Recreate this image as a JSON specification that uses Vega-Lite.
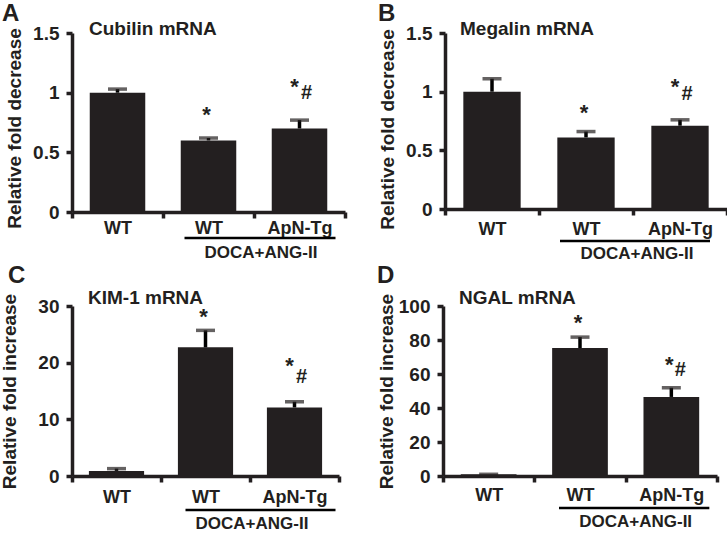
{
  "$schema": "https://vega.github.io/schema/vega-lite/v6.json",
  "background": "white",
  "padding": {"left": 0, "top": 2, "right": 0, "bottom": 0},
  "datasets": {
    "A": [
      {"panel": "A", "gene": "Cubilin mRNA", "cat": "WT", "group": "", "value": 1.0, "hi": 1.03, "sig": ""},
      {"panel": "A", "gene": "Cubilin mRNA", "cat": "DOCA WT", "group": "DOCA+ANG-II", "value": 0.60, "hi": 0.62, "sig": "*"},
      {"panel": "A", "gene": "Cubilin mRNA", "cat": "DOCA ApN-Tg", "group": "DOCA+ANG-II", "value": 0.70, "hi": 0.77, "sig": "*#"}
    ],
    "B": [
      {"panel": "B", "gene": "Megalin mRNA", "cat": "WT", "group": "", "value": 1.0, "hi": 1.11, "sig": ""},
      {"panel": "B", "gene": "Megalin mRNA", "cat": "DOCA WT", "group": "DOCA+ANG-II", "value": 0.61, "hi": 0.66, "sig": "*"},
      {"panel": "B", "gene": "Megalin mRNA", "cat": "DOCA ApN-Tg", "group": "DOCA+ANG-II", "value": 0.71, "hi": 0.76, "sig": "*#"}
    ],
    "C": [
      {"panel": "C", "gene": "KIM-1 mRNA", "cat": "WT", "group": "", "value": 0.9, "hi": 1.3, "sig": ""},
      {"panel": "C", "gene": "KIM-1 mRNA", "cat": "DOCA WT", "group": "DOCA+ANG-II", "value": 22.7, "hi": 25.7, "sig": "*"},
      {"panel": "C", "gene": "KIM-1 mRNA", "cat": "DOCA ApN-Tg", "group": "DOCA+ANG-II", "value": 12.1, "hi": 13.1, "sig": "*#"}
    ],
    "D": [
      {"panel": "D", "gene": "NGAL mRNA", "cat": "WT", "group": "", "value": 1.0, "hi": 1.0, "sig": ""},
      {"panel": "D", "gene": "NGAL mRNA", "cat": "DOCA WT", "group": "DOCA+ANG-II", "value": 75.3, "hi": 81.7, "sig": "*"},
      {"panel": "D", "gene": "NGAL mRNA", "cat": "DOCA ApN-Tg", "group": "DOCA+ANG-II", "value": 46.5, "hi": 51.9, "sig": "*#"}
    ]
  },
  "vconcat": [
    {
      "hconcat": [
        {
          "width": 273, "height": 179,
          "data": {"name": "A"},
          "encoding": {"x": {"field": "cat", "type": "nominal", "sort": ["WT", "DOCA WT", "DOCA ApN-Tg"], "scale": {"paddingInner": 0, "paddingOuter": 0}, "axis": {"labelPadding": 1, "labelExpr": "datum.value == 'DOCA ApN-Tg' ? 'ApN-Tg' : ((datum.value == 'WT' || datum.value == 'DOCA WT') ? 'WT' : '')"}}},
          "layer": [
            {"mark": {"type": "bar", "width": {"band": 0.61}}, "encoding": {"y": {"field": "value", "type": "quantitative", "scale": {"domain": [0, 1.5], "nice": false}, "axis": {"values": [0, 0.5, 1, 1.5], "format": "~g", "labelOverlap": false, "title": "Relative fold decrease", "titlePadding": 8, "titleY": 95}}}},
            {"mark": {"type": "rule", "strokeWidth": 3.5}, "encoding": {"y": {"field": "value", "type": "quantitative"}, "y2": {"field": "hi"}}},
            {"mark": {"type": "tick", "thickness": 3.5, "size": 19}, "encoding": {"y": {"field": "hi", "type": "quantitative"}}},
            {"transform": [{"filter": "datum.sig == '*'"}], "mark": {"type": "text", "fontSize": 22, "dx": -2, "dy": -16}, "encoding": {"y": {"field": "hi", "type": "quantitative"}, "text": {"field": "sig"}}},
            {"transform": [{"filter": "datum.sig == '*#'"}], "mark": {"type": "text", "fontSize": 22, "dx": -5, "dy": -26}, "encoding": {"y": {"field": "hi", "type": "quantitative"}, "text": {"value": "*"}}},
            {"transform": [{"filter": "datum.sig == '*#'"}], "mark": {"type": "text", "fontSize": 20, "dx": 7, "dy": -21}, "encoding": {"y": {"field": "hi", "type": "quantitative"}, "text": {"value": "#"}}},
            {"transform": [{"filter": "datum.cat == 'WT'"}], "mark": {"type": "text", "fontSize": 19, "align": "left", "dx": 17, "dy": 2}, "encoding": {"x": {"field": "cat", "type": "nominal", "bandPosition": 0}, "y": {"datum": 1.5}, "text": {"field": "gene"}}},
            {"transform": [{"filter": "datum.cat == 'WT'"}], "mark": {"type": "text", "fontSize": 24, "align": "left", "baseline": "top", "dx": -70, "dy": -31}, "encoding": {"x": {"field": "cat", "type": "nominal", "bandPosition": 0}, "y": {"datum": 1.5}, "text": {"field": "panel"}}},
            {"transform": [{"filter": "datum.cat == 'DOCA WT'"}], "mark": {"type": "rule", "strokeWidth": 2.5, "xOffset": -24, "x2Offset": 36, "yOffset": 26}, "encoding": {"x": {"field": "cat", "type": "nominal"}, "x2": {"datum": "DOCA ApN-Tg"}, "y": {"datum": 0}}},
            {"transform": [{"filter": "datum.cat == 'DOCA ApN-Tg'"}], "mark": {"type": "text", "fontSize": 17, "dx": 7, "yOffset": 46}, "encoding": {"x": {"field": "cat", "type": "nominal", "bandPosition": 0}, "y": {"datum": 0}, "text": {"field": "group"}}}
          ]
        },
        {
          "width": 282, "height": 176,
          "data": {"name": "B"},
          "encoding": {"x": {"field": "cat", "type": "nominal", "sort": ["WT", "DOCA WT", "DOCA ApN-Tg"], "scale": {"paddingInner": 0, "paddingOuter": 0}, "axis": {"labelPadding": 5, "labelExpr": "datum.value == 'DOCA ApN-Tg' ? 'ApN-Tg' : ((datum.value == 'WT' || datum.value == 'DOCA WT') ? 'WT' : '')"}}},
          "layer": [
            {"mark": {"type": "bar", "width": {"band": 0.61}}, "encoding": {"y": {"field": "value", "type": "quantitative", "scale": {"domain": [0, 1.5], "nice": false}, "axis": {"values": [0, 0.5, 1, 1.5], "format": "~g", "labelOverlap": false, "title": "Relative fold decrease", "titlePadding": 8, "titleY": 96}}}},
            {"mark": {"type": "rule", "strokeWidth": 3.5}, "encoding": {"y": {"field": "value", "type": "quantitative"}, "y2": {"field": "hi"}}},
            {"mark": {"type": "tick", "thickness": 3.5, "size": 19}, "encoding": {"y": {"field": "hi", "type": "quantitative"}}},
            {"transform": [{"filter": "datum.sig == '*'"}], "mark": {"type": "text", "fontSize": 22, "dx": -2, "dy": -12}, "encoding": {"y": {"field": "hi", "type": "quantitative"}, "text": {"field": "sig"}}},
            {"transform": [{"filter": "datum.sig == '*#'"}], "mark": {"type": "text", "fontSize": 22, "dx": -5, "dy": -26}, "encoding": {"y": {"field": "hi", "type": "quantitative"}, "text": {"value": "*"}}},
            {"transform": [{"filter": "datum.sig == '*#'"}], "mark": {"type": "text", "fontSize": 20, "dx": 7, "dy": -20}, "encoding": {"y": {"field": "hi", "type": "quantitative"}, "text": {"value": "#"}}},
            {"transform": [{"filter": "datum.cat == 'WT'"}], "mark": {"type": "text", "fontSize": 19, "align": "left", "dx": 15, "dy": 2}, "encoding": {"x": {"field": "cat", "type": "nominal", "bandPosition": 0}, "y": {"datum": 1.5}, "text": {"field": "gene"}}},
            {"transform": [{"filter": "datum.cat == 'WT'"}], "mark": {"type": "text", "fontSize": 24, "align": "left", "baseline": "top", "dx": -67, "dy": -31}, "encoding": {"x": {"field": "cat", "type": "nominal", "bandPosition": 0}, "y": {"datum": 1.5}, "text": {"field": "panel"}}},
            {"transform": [{"filter": "datum.cat == 'DOCA WT'"}], "mark": {"type": "rule", "strokeWidth": 2.5, "xOffset": -26, "x2Offset": 30, "yOffset": 32}, "encoding": {"x": {"field": "cat", "type": "nominal"}, "x2": {"datum": "DOCA ApN-Tg"}, "y": {"datum": 0}}},
            {"transform": [{"filter": "datum.cat == 'DOCA ApN-Tg'"}], "mark": {"type": "text", "fontSize": 17, "dx": 4, "yOffset": 50}, "encoding": {"x": {"field": "cat", "type": "nominal", "bandPosition": 0}, "y": {"datum": 0}, "text": {"field": "group"}}}
          ]
        }
      ],
      "spacing": 31
    },
    {
      "hconcat": [
        {
          "width": 267, "height": 170,
          "data": {"name": "C"},
          "encoding": {"x": {"field": "cat", "type": "nominal", "sort": ["WT", "DOCA WT", "DOCA ApN-Tg"], "scale": {"paddingInner": 0, "paddingOuter": 0}, "axis": {"labelPadding": 6, "labelExpr": "datum.value == 'DOCA ApN-Tg' ? 'ApN-Tg' : ((datum.value == 'WT' || datum.value == 'DOCA WT') ? 'WT' : '')"}}},
          "layer": [
            {"mark": {"type": "bar", "width": {"band": 0.62}}, "encoding": {"y": {"field": "value", "type": "quantitative", "scale": {"domain": [0, 30], "nice": false}, "axis": {"values": [0, 10, 20, 30], "labelOverlap": false, "title": "Relative fold increase", "titlePadding": 18}}}},
            {"mark": {"type": "rule", "strokeWidth": 3.5}, "encoding": {"y": {"field": "value", "type": "quantitative"}, "y2": {"field": "hi"}}},
            {"mark": {"type": "tick", "thickness": 3.5, "size": 19}, "encoding": {"y": {"field": "hi", "type": "quantitative"}}},
            {"transform": [{"filter": "datum.sig == '*'"}], "mark": {"type": "text", "fontSize": 22, "dx": -2, "dy": -6}, "encoding": {"y": {"field": "hi", "type": "quantitative"}, "text": {"field": "sig"}}},
            {"transform": [{"filter": "datum.sig == '*#'"}], "mark": {"type": "text", "fontSize": 22, "dx": -5, "dy": -29}, "encoding": {"y": {"field": "hi", "type": "quantitative"}, "text": {"value": "*"}}},
            {"transform": [{"filter": "datum.sig == '*#'"}], "mark": {"type": "text", "fontSize": 20, "dx": 7, "dy": -19}, "encoding": {"y": {"field": "hi", "type": "quantitative"}, "text": {"value": "#"}}},
            {"transform": [{"filter": "datum.cat == 'WT'"}], "mark": {"type": "text", "fontSize": 19, "align": "left", "dx": 16, "dy": -2}, "encoding": {"x": {"field": "cat", "type": "nominal", "bandPosition": 0}, "y": {"datum": 30}, "text": {"field": "gene"}}},
            {"transform": [{"filter": "datum.cat == 'WT'"}], "mark": {"type": "text", "fontSize": 24, "align": "left", "baseline": "top", "dx": -64, "dy": -42}, "encoding": {"x": {"field": "cat", "type": "nominal", "bandPosition": 0}, "y": {"datum": 30}, "text": {"field": "panel"}}},
            {"transform": [{"filter": "datum.cat == 'DOCA WT'"}], "mark": {"type": "rule", "strokeWidth": 2.5, "xOffset": -20, "x2Offset": 41, "yOffset": 34}, "encoding": {"x": {"field": "cat", "type": "nominal"}, "x2": {"datum": "DOCA ApN-Tg"}, "y": {"datum": 0}}},
            {"transform": [{"filter": "datum.cat == 'DOCA ApN-Tg'"}], "mark": {"type": "text", "fontSize": 17, "dx": 2, "yOffset": 53}, "encoding": {"x": {"field": "cat", "type": "nominal", "bandPosition": 0}, "y": {"datum": 0}, "text": {"field": "group"}}}
          ]
        },
        {
          "width": 274, "height": 170,
          "data": {"name": "D"},
          "encoding": {"x": {"field": "cat", "type": "nominal", "sort": ["WT", "DOCA WT", "DOCA ApN-Tg"], "scale": {"paddingInner": 0, "paddingOuter": 0}, "axis": {"labelPadding": 4, "labelExpr": "datum.value == 'DOCA ApN-Tg' ? 'ApN-Tg' : ((datum.value == 'WT' || datum.value == 'DOCA WT') ? 'WT' : '')"}}},
          "layer": [
            {"mark": {"type": "bar", "width": {"band": 0.61}}, "encoding": {"y": {"field": "value", "type": "quantitative", "scale": {"domain": [0, 100], "nice": false}, "axis": {"values": [0, 20, 40, 60, 80, 100], "tickCount": 6, "labelOverlap": false, "labelSeparation": 0, "labelBound": false, "title": "Relative fold increase", "titlePadding": 2}}}},
            {"mark": {"type": "rule", "strokeWidth": 3.5}, "encoding": {"y": {"field": "value", "type": "quantitative", "axis": {"values": [0, 20, 40, 60, 80, 100], "tickCount": 6, "labelOverlap": false}}, "y2": {"field": "hi"}}},
            {"mark": {"type": "tick", "thickness": 3.5, "size": 19}, "encoding": {"y": {"field": "hi", "type": "quantitative", "axis": {"values": [0, 20, 40, 60, 80, 100], "tickCount": 6, "labelOverlap": false}}}},
            {"transform": [{"filter": "datum.sig == '*'"}], "mark": {"type": "text", "fontSize": 22, "dx": -2, "dy": -7}, "encoding": {"y": {"field": "hi", "type": "quantitative", "axis": {"values": [0, 20, 40, 60, 80, 100], "tickCount": 6, "labelOverlap": false}}, "text": {"field": "sig"}}},
            {"transform": [{"filter": "datum.sig == '*#'"}], "mark": {"type": "text", "fontSize": 22, "dx": -2, "dy": -16}, "encoding": {"y": {"field": "hi", "type": "quantitative", "axis": {"values": [0, 20, 40, 60, 80, 100], "tickCount": 6, "labelOverlap": false}}, "text": {"value": "*"}}},
            {"transform": [{"filter": "datum.sig == '*#'"}], "mark": {"type": "text", "fontSize": 20, "dx": 9, "dy": -12}, "encoding": {"y": {"field": "hi", "type": "quantitative", "axis": {"values": [0, 20, 40, 60, 80, 100], "tickCount": 6, "labelOverlap": false}}, "text": {"value": "#"}}},
            {"transform": [{"filter": "datum.cat == 'WT'"}], "mark": {"type": "text", "fontSize": 19, "align": "left", "dx": 16, "dy": -2}, "encoding": {"x": {"field": "cat", "type": "nominal", "bandPosition": 0}, "y": {"datum": 100}, "text": {"field": "gene"}}},
            {"transform": [{"filter": "datum.cat == 'WT'"}], "mark": {"type": "text", "fontSize": 24, "align": "left", "baseline": "top", "dx": -66, "dy": -42}, "encoding": {"x": {"field": "cat", "type": "nominal", "bandPosition": 0}, "y": {"datum": 100}, "text": {"field": "panel"}}},
            {"transform": [{"filter": "datum.cat == 'DOCA WT'"}], "mark": {"type": "rule", "strokeWidth": 2.5, "xOffset": -21, "x2Offset": 38, "yOffset": 32}, "encoding": {"x": {"field": "cat", "type": "nominal"}, "x2": {"datum": "DOCA ApN-Tg"}, "y": {"datum": 0}}},
            {"transform": [{"filter": "datum.cat == 'DOCA ApN-Tg'"}], "mark": {"type": "text", "fontSize": 17, "dx": 10, "yOffset": 51}, "encoding": {"x": {"field": "cat", "type": "nominal", "bandPosition": 0}, "y": {"datum": 0}, "text": {"field": "group"}}}
          ]
        }
      ],
      "spacing": 36
    }
  ],
  "spacing": 2,
  "config": {
    "view": {"stroke": null},
    "font": "Liberation Sans",
    "mark": {"color": "#231f20"},
    "text": {"font": "Liberation Sans", "fontWeight": "bold", "baseline": "alphabetic", "color": "#231f20"},
    "axis": {
      "domainColor": "#231f20", "domainWidth": 3.5, "tickColor": "#231f20", "tickWidth": 3.5, "tickSize": 6,
      "labelFont": "Liberation Sans", "labelFontWeight": "bold", "labelFontSize": 18, "labelColor": "#231f20",
      "titleFont": "Liberation Sans", "titleFontWeight": "bold", "titleFontSize": 19, "titleColor": "#231f20",
      "grid": false, "labelOverlap": false
    },
    "axisX": {"labelAngle": 0, "tickBand": "extent", "title": null},
    "axisY": {"labelPadding": 7, "labelFontSize": 19}
  }
}
